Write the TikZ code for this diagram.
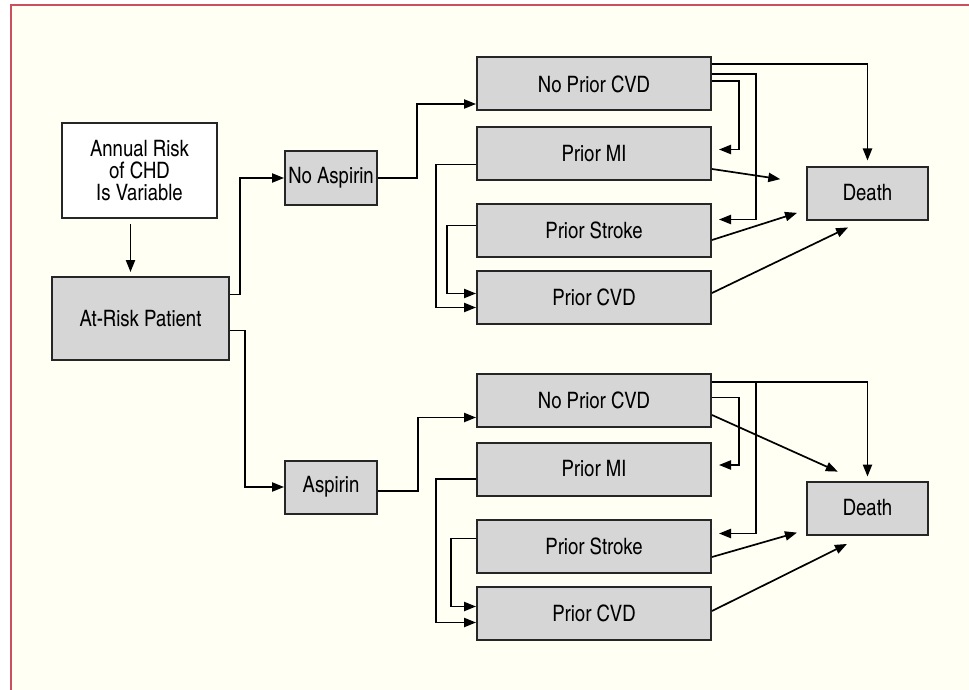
\documentclass[tikz,border=0pt]{standalone}
\usepackage{fontspec}
\setmainfont{TeX Gyre Heros Cn}
\usetikzlibrary{calc,arrows.meta}
\definecolor{cream}{HTML}{FFFFF3}
\definecolor{boxgray}{HTML}{D6D6D6}
\definecolor{frame}{HTML}{C9505C}
\begin{document}
\begin{tikzpicture}[x=0.5pt,y=-0.5pt,line width=0.85pt,
	box/.style={draw=black!85, line width=1pt, fill=boxgray, inner sep=0pt, minimum height=26.5pt, font=\fontsize{11.3}{10.8}\selectfont},
	arr/.style={-{Triangle[length=6pt,width=4.6pt]}}]
	\useasboundingbox (0,0) rectangle (969,690);
	\fill[white] (0,0) rectangle (969,690);
	\fill[cream] (11,5) rectangle (969,690);
	\draw[frame, line width=1pt] (11,690) -- (11,5) -- (969,5);

	\node (risk)    at (139.5,170.5)	[box, fill=white, minimum width=77.5pt, minimum height=47.5pt, align=center]	{Annual Risk\\of CHD\\Is Variable};
	\node (patient) at (140.5,318.5)	[box, minimum width=88.5pt, minimum height=41.5pt]	{At-Risk Patient};
	\node (noasp)   at (331,178)	[box, minimum width=46pt]	{No Aspirin};
	\node (asp)     at (331,487)	[box, minimum width=46pt]	{Aspirin};

	\node (nocvd1)  at (594,84)	[box, minimum width=117pt]	{No Prior CVD};
	\node (mi1)     at (594,153.5)	[box, minimum width=117pt]	{Prior MI};
	\node (stroke1) at (594,230.5)	[box, minimum width=117pt]	{Prior Stroke};
	\node (cvd1)    at (594,297.5)	[box, minimum width=117pt]	{Prior CVD};
	\node (death1)  at (867.5,193)	[box, minimum width=60.5pt]	{Death};

	\node (nocvd2)  at (594,400.5)	[box, minimum width=117pt]	{No Prior CVD};
	\node (mi2)     at (594,469)	[box, minimum width=117pt]	{Prior MI};
	\node (stroke2) at (594,546.5)	[box, minimum width=117pt]	{Prior Stroke};
	\node (cvd2)    at (594,613.5)	[box, minimum width=117pt]	{Prior CVD};
	\node (death2)  at (867.5,508)	[box, minimum width=60.5pt]	{Death};

	\draw[arr, shorten <=2.5pt, shorten >=2pt] ($(risk.south)+(-9,0)$) -- ($(patient.north)+(-10,0)$);
	\draw[arr] ($(patient.east)+(0,-24)$) -- ++(10,0) |- (noasp.west);
	\draw[arr] ($(patient.east)+(0,12)$) -- ++(15,0) |- (asp.west);

	\draw[arr] (noasp.east) -- ++(39,0) |- ($(nocvd1.west)+(0,20)$);
	\draw[arr] ($(mi1.west)+(0,11)$) -- ++(-40,0) |- ($(cvd1.west)+(0,10)$);
	\draw[arr] ($(stroke1.west)+(0,-5)$) -- ++(-29,0) |- ($(cvd1.west)+(0,-4)$);
	\draw[arr, shorten >=3.5pt] ($(nocvd1.east)+(0,-3)$) -- ++(27,0) |- ($(mi1.east)+(0,-4)$);
	\draw[arr, shorten >=3.5pt] ($(nocvd1.east)+(0,-10)$) -- ++(44,0) |- ($(stroke1.east)+(0,-11)$);
	\draw[arr, shorten >=2.5pt] ($(nocvd1.east)+(0,-20)$) -| (death1.north);
	\draw[arr, shorten >=13pt] ($(mi1.east)+(0,15.5)$) -- ($(death1.west)+(0,-10)$);
	\draw[arr, shorten >=4.7pt] ($(stroke1.east)+(0,9.5)$) -- ($(death1.west)+(0,17)$);
	\draw[arr, shorten >=8pt] ($(cvd1.east)+(0,-4.5)$) -- ($(death1.south)+(-5,0)$);

	\draw[arr] ($(asp.east)+(0,4)$) -- ++(40,0) |- ($(nocvd2.west)+(0,17)$);
	\draw[arr] ($(mi2.west)+(0,10)$) -- ++(-40,0) |- ($(cvd2.west)+(0,9)$);
	\draw[arr] ($(stroke2.west)+(0,-8)$) -- ++(-25,0) |- ($(cvd2.west)+(0,-7)$);
	\draw[arr, shorten >=3.5pt] ($(nocvd2.east)+(0,-3)$) -- ++(27,0) |- ($(mi2.east)+(0,-4)$);
	\draw[arr, shorten >=3.5pt] ($(nocvd2.east)+(0,-18.5)$) -- ++(44,0) |- ($(stroke2.east)+(0,-13)$);
	\draw[arr, shorten >=2pt] ($(nocvd2.east)+(0,-18.5)$) -| (death2.north);
	\draw[arr, shorten >=10.8pt] ($(nocvd2.east)+(0,14.5)$) -- ($(death2.north)+(-10,0)$);
	\draw[arr, shorten >=4.7pt] ($(stroke2.east)+(0,10.5)$) -- ($(death2.west)+(0,22)$);
	\draw[arr, shorten >=9.5pt] ($(cvd2.east)+(0,-2.5)$) -- ($(death2.south)+(-3.5,0)$);
\end{tikzpicture}
\end{document}
